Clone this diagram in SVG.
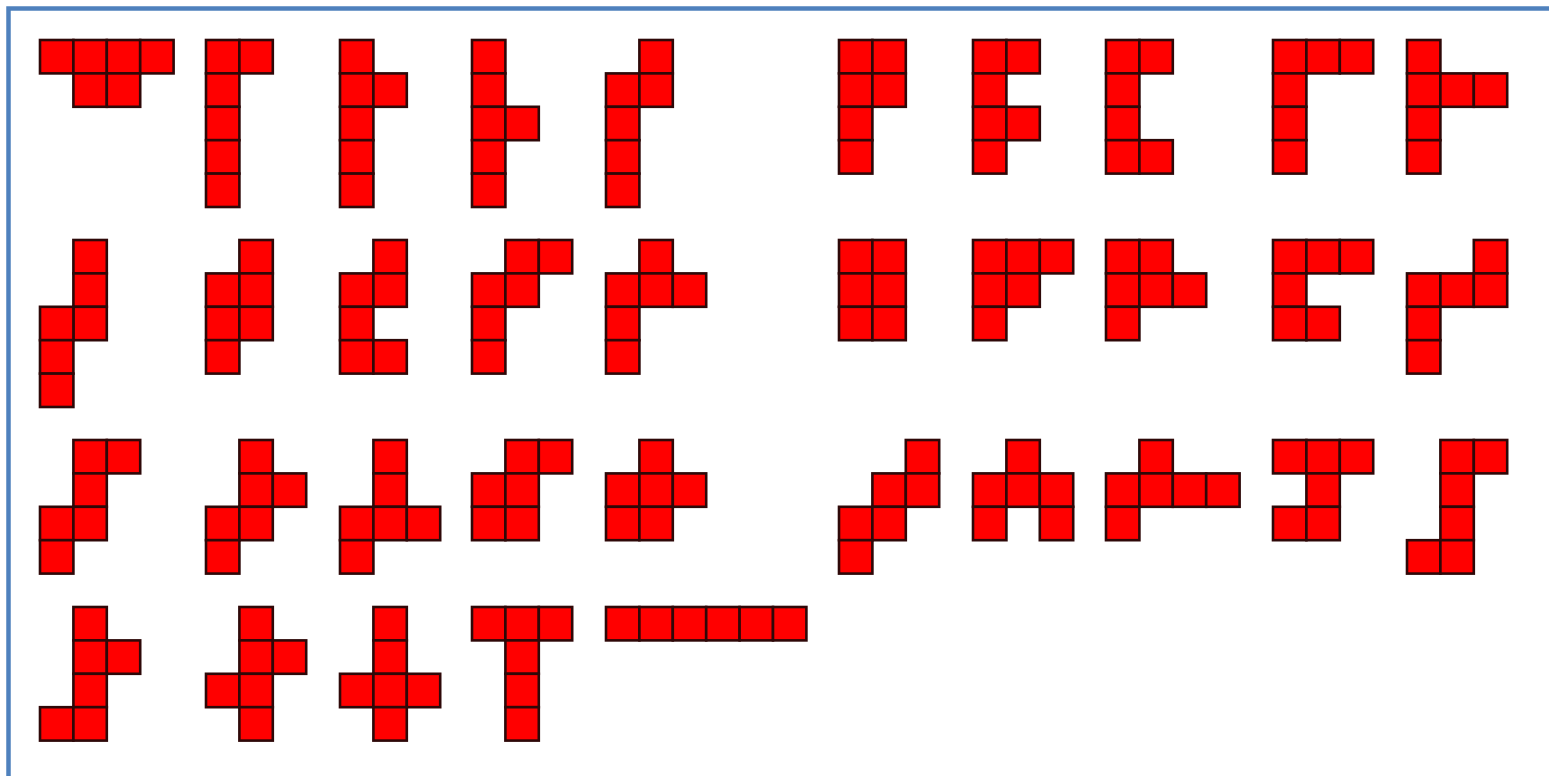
<svg xmlns="http://www.w3.org/2000/svg" xmlns:xlink="http://www.w3.org/1999/xlink" width="1549" height="776" viewBox="0 0 1549 776">
<style>
.c{fill:#ff0000;stroke:#2e0808;stroke-width:2.6}
.frame{fill:none;stroke:#4f81bd;stroke-width:4.5}
</style>
<defs>
<rect id="cell" class="c" x="0" y="0" width="33.4" height="33.4"/>
</defs>
<rect width="1549" height="776" fill="#ffffff"/>
<path class="frame" d="M8.5,776 V8.5 H1549"/>
<!-- Row 1 -->
<g id="r1s1" transform="translate(40,40)"><use href="#cell" x="0" y="0"/><use href="#cell" x="33.4" y="0"/><use href="#cell" x="66.8" y="0"/><use href="#cell" x="100.2" y="0"/><use href="#cell" x="33.4" y="33.4"/><use href="#cell" x="66.8" y="33.4"/></g>
<g id="r1s2" transform="translate(206,40)"><use href="#cell" x="0" y="0"/><use href="#cell" x="33.4" y="0"/><use href="#cell" x="0" y="33.4"/><use href="#cell" x="0" y="66.8"/><use href="#cell" x="0" y="100.2"/><use href="#cell" x="0" y="133.6"/></g>
<g id="r1s3" transform="translate(340,40)"><use href="#cell" x="0" y="0"/><use href="#cell" x="0" y="33.4"/><use href="#cell" x="33.4" y="33.4"/><use href="#cell" x="0" y="66.8"/><use href="#cell" x="0" y="100.2"/><use href="#cell" x="0" y="133.6"/></g>
<g id="r1s4" transform="translate(472,40)"><use href="#cell" x="0" y="0"/><use href="#cell" x="0" y="33.4"/><use href="#cell" x="0" y="66.8"/><use href="#cell" x="33.4" y="66.8"/><use href="#cell" x="0" y="100.2"/><use href="#cell" x="0" y="133.6"/></g>
<g id="r1s5" transform="translate(606,40)"><use href="#cell" x="33.4" y="0"/><use href="#cell" x="0" y="33.4"/><use href="#cell" x="33.4" y="33.4"/><use href="#cell" x="0" y="66.8"/><use href="#cell" x="0" y="100.2"/><use href="#cell" x="0" y="133.6"/></g>
<g id="r1s6" transform="translate(839,40)"><use href="#cell" x="0" y="0"/><use href="#cell" x="33.4" y="0"/><use href="#cell" x="0" y="33.4"/><use href="#cell" x="33.4" y="33.4"/><use href="#cell" x="0" y="66.8"/><use href="#cell" x="0" y="100.2"/></g>
<g id="r1s7" transform="translate(973,40)"><use href="#cell" x="0" y="0"/><use href="#cell" x="33.4" y="0"/><use href="#cell" x="0" y="33.4"/><use href="#cell" x="0" y="66.8"/><use href="#cell" x="33.4" y="66.8"/><use href="#cell" x="0" y="100.2"/></g>
<g id="r1s8" transform="translate(1106,40)"><use href="#cell" x="0" y="0"/><use href="#cell" x="33.4" y="0"/><use href="#cell" x="0" y="33.4"/><use href="#cell" x="0" y="66.8"/><use href="#cell" x="0" y="100.2"/><use href="#cell" x="33.4" y="100.2"/></g>
<g id="r1s9" transform="translate(1273,40)"><use href="#cell" x="0" y="0"/><use href="#cell" x="33.4" y="0"/><use href="#cell" x="66.8" y="0"/><use href="#cell" x="0" y="33.4"/><use href="#cell" x="0" y="66.8"/><use href="#cell" x="0" y="100.2"/></g>
<g id="r1s10" transform="translate(1407,40)"><use href="#cell" x="0" y="0"/><use href="#cell" x="0" y="33.4"/><use href="#cell" x="33.4" y="33.4"/><use href="#cell" x="66.8" y="33.4"/><use href="#cell" x="0" y="66.8"/><use href="#cell" x="0" y="100.2"/></g>
<!-- Row 2 -->
<g id="r2s1" transform="translate(40,240)"><use href="#cell" x="33.4" y="0"/><use href="#cell" x="33.4" y="33.4"/><use href="#cell" x="33.4" y="66.8"/><use href="#cell" x="0" y="66.8"/><use href="#cell" x="0" y="100.2"/><use href="#cell" x="0" y="133.6"/></g>
<g id="r2s2" transform="translate(206,240)"><use href="#cell" x="33.4" y="0"/><use href="#cell" x="0" y="33.4"/><use href="#cell" x="33.4" y="33.4"/><use href="#cell" x="0" y="66.8"/><use href="#cell" x="33.4" y="66.8"/><use href="#cell" x="0" y="100.2"/></g>
<g id="r2s3" transform="translate(340,240)"><use href="#cell" x="33.4" y="0"/><use href="#cell" x="0" y="33.4"/><use href="#cell" x="33.4" y="33.4"/><use href="#cell" x="0" y="66.8"/><use href="#cell" x="0" y="100.2"/><use href="#cell" x="33.4" y="100.2"/></g>
<g id="r2s4" transform="translate(472,240)"><use href="#cell" x="33.4" y="0"/><use href="#cell" x="66.8" y="0"/><use href="#cell" x="0" y="33.4"/><use href="#cell" x="33.4" y="33.4"/><use href="#cell" x="0" y="66.8"/><use href="#cell" x="0" y="100.2"/></g>
<g id="r2s5" transform="translate(606,240)"><use href="#cell" x="33.4" y="0"/><use href="#cell" x="0" y="33.4"/><use href="#cell" x="33.4" y="33.4"/><use href="#cell" x="66.8" y="33.4"/><use href="#cell" x="0" y="66.8"/><use href="#cell" x="0" y="100.2"/></g>
<g id="r2s6" transform="translate(839,240)"><use href="#cell" x="0" y="0"/><use href="#cell" x="33.4" y="0"/><use href="#cell" x="0" y="33.4"/><use href="#cell" x="33.4" y="33.4"/><use href="#cell" x="0" y="66.8"/><use href="#cell" x="33.4" y="66.8"/></g>
<g id="r2s7" transform="translate(973,240)"><use href="#cell" x="0" y="0"/><use href="#cell" x="33.4" y="0"/><use href="#cell" x="66.8" y="0"/><use href="#cell" x="0" y="33.4"/><use href="#cell" x="33.4" y="33.4"/><use href="#cell" x="0" y="66.8"/></g>
<g id="r2s8" transform="translate(1106,240)"><use href="#cell" x="0" y="0"/><use href="#cell" x="33.4" y="0"/><use href="#cell" x="0" y="33.4"/><use href="#cell" x="33.4" y="33.4"/><use href="#cell" x="66.8" y="33.4"/><use href="#cell" x="0" y="66.8"/></g>
<g id="r2s9" transform="translate(1273,240)"><use href="#cell" x="0" y="0"/><use href="#cell" x="33.4" y="0"/><use href="#cell" x="66.8" y="0"/><use href="#cell" x="0" y="33.4"/><use href="#cell" x="0" y="66.8"/><use href="#cell" x="33.4" y="66.8"/></g>
<g id="r2s10" transform="translate(1407,240)"><use href="#cell" x="66.8" y="0"/><use href="#cell" x="0" y="33.4"/><use href="#cell" x="33.4" y="33.4"/><use href="#cell" x="66.8" y="33.4"/><use href="#cell" x="0" y="66.8"/><use href="#cell" x="0" y="100.2"/></g>
<!-- Row 3 -->
<g id="r3s1" transform="translate(40,440)"><use href="#cell" x="33.4" y="0"/><use href="#cell" x="66.8" y="0"/><use href="#cell" x="33.4" y="33.4"/><use href="#cell" x="0" y="66.8"/><use href="#cell" x="33.4" y="66.8"/><use href="#cell" x="0" y="100.2"/></g>
<g id="r3s2" transform="translate(206,440)"><use href="#cell" x="33.4" y="0"/><use href="#cell" x="33.4" y="33.4"/><use href="#cell" x="66.8" y="33.4"/><use href="#cell" x="0" y="66.8"/><use href="#cell" x="33.4" y="66.8"/><use href="#cell" x="0" y="100.2"/></g>
<g id="r3s3" transform="translate(340,440)"><use href="#cell" x="33.4" y="0"/><use href="#cell" x="33.4" y="33.4"/><use href="#cell" x="0" y="66.8"/><use href="#cell" x="33.4" y="66.8"/><use href="#cell" x="66.8" y="66.8"/><use href="#cell" x="0" y="100.2"/></g>
<g id="r3s4" transform="translate(472,440)"><use href="#cell" x="33.4" y="0"/><use href="#cell" x="66.8" y="0"/><use href="#cell" x="0" y="33.4"/><use href="#cell" x="33.4" y="33.4"/><use href="#cell" x="0" y="66.8"/><use href="#cell" x="33.4" y="66.8"/></g>
<g id="r3s5" transform="translate(606,440)"><use href="#cell" x="33.4" y="0"/><use href="#cell" x="0" y="33.4"/><use href="#cell" x="33.4" y="33.4"/><use href="#cell" x="66.8" y="33.4"/><use href="#cell" x="0" y="66.8"/><use href="#cell" x="33.4" y="66.8"/></g>
<g id="r3s6" transform="translate(839,440)"><use href="#cell" x="66.8" y="0"/><use href="#cell" x="33.4" y="33.4"/><use href="#cell" x="66.8" y="33.4"/><use href="#cell" x="0" y="66.8"/><use href="#cell" x="33.4" y="66.8"/><use href="#cell" x="0" y="100.2"/></g>
<g id="r3s7" transform="translate(973,440)"><use href="#cell" x="33.4" y="0"/><use href="#cell" x="0" y="33.4"/><use href="#cell" x="33.4" y="33.4"/><use href="#cell" x="66.8" y="33.4"/><use href="#cell" x="0" y="66.8"/><use href="#cell" x="66.8" y="66.8"/></g>
<g id="r3s8" transform="translate(1106,440)"><use href="#cell" x="33.4" y="0"/><use href="#cell" x="0" y="33.4"/><use href="#cell" x="33.4" y="33.4"/><use href="#cell" x="66.8" y="33.4"/><use href="#cell" x="100.2" y="33.4"/><use href="#cell" x="0" y="66.8"/></g>
<g id="r3s9" transform="translate(1273,440)"><use href="#cell" x="0" y="0"/><use href="#cell" x="33.4" y="0"/><use href="#cell" x="66.8" y="0"/><use href="#cell" x="33.4" y="33.4"/><use href="#cell" x="0" y="66.8"/><use href="#cell" x="33.4" y="66.8"/></g>
<g id="r3s10" transform="translate(1407,440)"><use href="#cell" x="33.4" y="0"/><use href="#cell" x="66.8" y="0"/><use href="#cell" x="33.4" y="33.4"/><use href="#cell" x="33.4" y="66.8"/><use href="#cell" x="0" y="100.2"/><use href="#cell" x="33.4" y="100.2"/></g>
<!-- Row 4 -->
<g id="r4s1" transform="translate(40,607)"><use href="#cell" x="33.4" y="0"/><use href="#cell" x="33.4" y="33.4"/><use href="#cell" x="66.8" y="33.4"/><use href="#cell" x="33.4" y="66.8"/><use href="#cell" x="0" y="100.2"/><use href="#cell" x="33.4" y="100.2"/></g>
<g id="r4s2" transform="translate(206,607)"><use href="#cell" x="33.4" y="0"/><use href="#cell" x="33.4" y="33.4"/><use href="#cell" x="66.8" y="33.4"/><use href="#cell" x="0" y="66.8"/><use href="#cell" x="33.4" y="66.8"/><use href="#cell" x="33.4" y="100.2"/></g>
<g id="r4s3" transform="translate(340,607)"><use href="#cell" x="33.4" y="0"/><use href="#cell" x="33.4" y="33.4"/><use href="#cell" x="0" y="66.8"/><use href="#cell" x="33.4" y="66.8"/><use href="#cell" x="66.8" y="66.8"/><use href="#cell" x="33.4" y="100.2"/></g>
<g id="r4s4" transform="translate(472,607)"><use href="#cell" x="0" y="0"/><use href="#cell" x="33.4" y="0"/><use href="#cell" x="66.8" y="0"/><use href="#cell" x="33.4" y="33.4"/><use href="#cell" x="33.4" y="66.8"/><use href="#cell" x="33.4" y="100.2"/></g>
<g id="r4s5" transform="translate(606,607)"><use href="#cell" x="0" y="0"/><use href="#cell" x="33.4" y="0"/><use href="#cell" x="66.8" y="0"/><use href="#cell" x="100.2" y="0"/><use href="#cell" x="133.6" y="0"/><use href="#cell" x="167" y="0"/></g>
</svg>
